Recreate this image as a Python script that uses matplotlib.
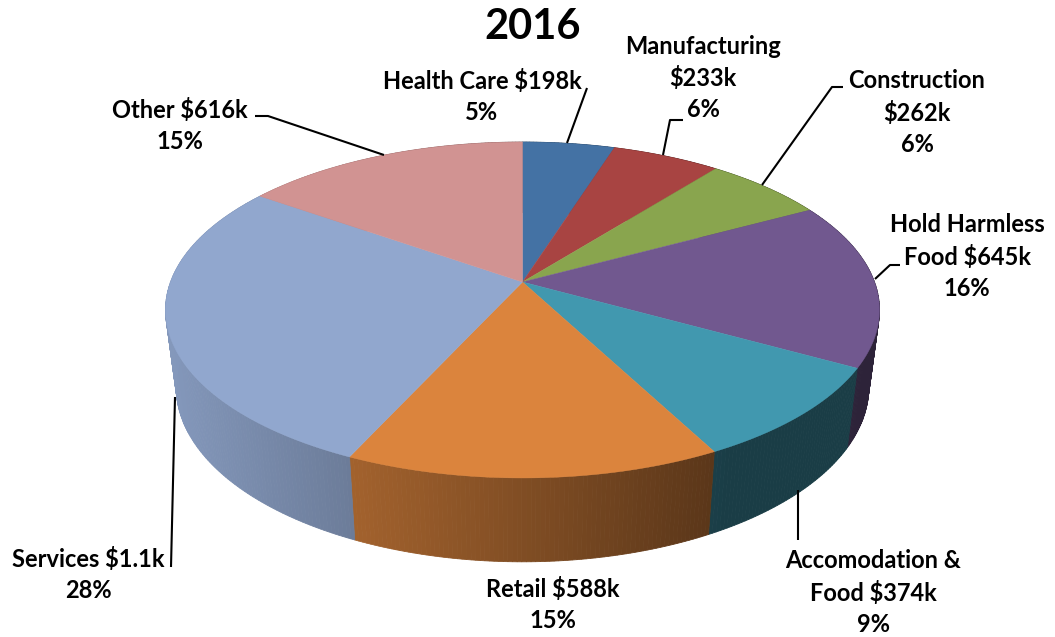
# 3D style pie chart of 2016 revenue by sector, projected by hand since matplotlib has no 3D pie

import numpy as np
import matplotlib
matplotlib.use('Agg')
import matplotlib.pyplot as plt

sectors = ['Health Care', 'Manufacturing', 'Construction', 'Hold Harmless Food',
           'Accomodation & Food', 'Retail', 'Services', 'Other']
values = [198, 233, 262, 645, 374, 588, 1130, 616]
colors = ['#4472A4', '#A84442', '#89A54E', '#71588F', '#4198AF', '#DB843D', '#91A7CE', '#D19392']
labels = [['Health Care $198k', '5%'],
          ['Manufacturing', '$233k', '6%'],
          ['Construction', '$262k', '6%'],
          ['Hold Harmless', 'Food $645k', '16%'],
          ['Accomodation &', 'Food $374k', '9%'],
          ['Retail $588k', '15%'],
          ['Services $1.1k', '28%'],
          ['Other $616k', '15%']]

plt.rcParams['font.family'] = ['Lato', 'DejaVu Sans']
plt.rcParams['font.weight'] = 'bold'

fig = plt.figure(figsize=(10.55, 6.37), dpi=100)
ax = fig.add_axes([0, 0, 1, 1])
ax.set_xlim(0, 1055)
ax.set_ylim(637, 0)
ax.axis('off')

cx, cy = 522.5, 282
a, b, k = 352, 163.3, 0.1667


def top(theta):
    # perspective projection of the pie's top circle, theta clockwise from 12 o'clock
    f = 1 / (1 + k * np.cos(theta))
    return cx + a * np.sin(theta) * f, cy - b * np.cos(theta) * f


def bottom(theta):
    x, y = top(theta)
    return cx + 0.97 * (x - cx), cy + 76 + 1.04 * (y - cy)


def shade(c, x):
    rgb = np.array(matplotlib.colors.to_rgb(c))
    return rgb * np.clip(0.9 - 0.0009 * (x - 175), 0.40, 0.92)


edges = np.cumsum([0] + values) / np.sum(values) * 2 * np.pi

# side wall first, as thin quads so the shading can run along it
for i in range(len(values)):
    th = np.linspace(edges[i], edges[i + 1], max(int((edges[i + 1] - edges[i]) * 90), 2))
    for t0, t1 in zip(th[:-1], th[1:]):
        x0, y0 = top(t0)
        x1, y1 = top(t1)
        x2, y2 = bottom(t1)
        x3, y3 = bottom(t0)
        col = shade(colors[i], (x0 + x1) / 2)
        ax.fill([x0, x1, x2, x3], [y0, y1, y2, y3], color=col, lw=0.6, zorder=1)

# top face
for i in range(len(values)):
    th = np.linspace(edges[i], edges[i + 1], 80)
    x, y = top(th)
    ax.fill(np.r_[cx, x], np.r_[cy, y], color=colors[i], lw=0.3, zorder=2)

# leader lines
leaders = [([587, 567], [88, 143]),
           ([683, 670, 663], [120, 120, 155]),
           ([843, 832, 762], [87, 87, 185]),
           ([900, 890, 875], [265, 265, 279]),
           ([798, 798], [490, 540]),
           ([175, 171], [397, 567]),
           ([255, 268, 384], [116, 116, 155])]
for lx, ly in leaders:
    ax.plot(lx, ly, color='black', lw=1.5, zorder=3, solid_capstyle='butt')

# label centre of the first line
label_pos = [(482, 81), (703, 46), (917, 81), (967, 225), (873, 561), (553, 589), (88, 559), (180, 110)]
for lines, (lx, ly) in zip(labels, label_pos):
    for j, s in enumerate(lines):
        ax.text(lx, ly + j * 31.8, s, ha='center', va='center', fontsize=17, color='black', zorder=4)

ax.text(533, 27, '2016', ha='center', va='center', fontsize=30, color='black')

fig.savefig('out.png', dpi=100)
